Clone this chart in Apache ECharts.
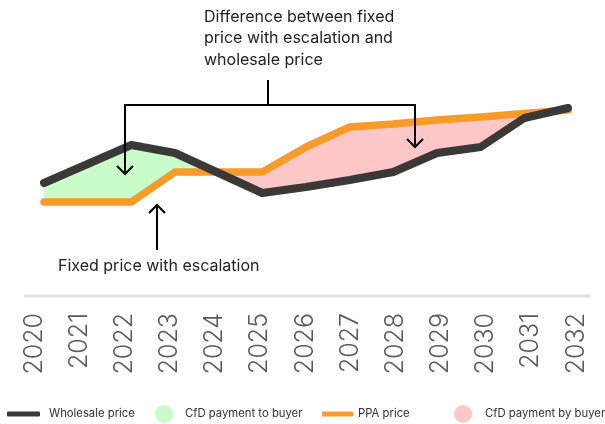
<!DOCTYPE html>
<html><head><meta charset="utf-8">
<script src="https://cdn.jsdelivr.net/npm/echarts@6/dist/echarts.min.js"></script>
<style>html,body{margin:0;padding:0;background:#fff}#c{width:605px;height:424px}</style>
</head><body><div id="c"></div>
<script>
const years = ['2020','2021','2022','2023','2024','2025','2026','2027','2028','2029','2030','2031','2032'];
const wholesale = [23.5,33,42.5,38.5,28.5,18.5,21.5,25,29,38.5,41.5,56,61];
const ppa = [14,14,14,29,29,29,41.5,51.5,53,55,56.5,58.3,60];
const wholesaleName = 'Wholesale price';
const ppaName = 'PPA price';
const toBuyerName = 'CfD payment to buyer';
const byBuyerName = 'CfD payment by buyer';

const C_WH = '#3b3937', C_PPA = '#f89b2a', C_GREEN = '#c8fcc8', C_PINK = '#ffc7c7';

function fillSeries(name, sign, color) {
  return {
    type: 'custom', name: name, xAxisIndex: 0, yAxisIndex: 0, z: 1,
    itemStyle: {color: color},
    data: years.slice(0, -1).map((y, i) => [i, wholesale[i], ppa[i], wholesale[i+1], ppa[i+1]]),
    encode: {x: 0, y: [1, 2]},
    renderItem: function (params, api) {
      const i = api.value(0);
      const w0 = api.value(1), p0 = api.value(2), w1 = api.value(3), p1 = api.value(4);
      const d0 = sign * (w0 - p0), d1 = sign * (w1 - p1);
      if (d0 <= 0 && d1 <= 0) return null;
      const A = api.coord([i, w0]), B = api.coord([i+1, w1]), Cc = api.coord([i+1, p1]), D = api.coord([i, p0]);
      let pts;
      if (d0 >= 0 && d1 >= 0) pts = [A, B, Cc, D];
      else {
        const t = d0 / (d0 - d1);
        const X = [A[0] + (B[0]-A[0])*t, A[1] + (B[1]-A[1])*t];
        pts = d0 > 0 ? [A, X, D] : [X, B, Cc];
      }
      return {type: 'polygon', shape: {points: pts}, style: {fill: color, stroke: color, lineWidth: 1}};
    }
  };
}

const legendText = {fontFamily: 'Inter', fontSize: 11.3, color: '#333', lineHeight: 18};
function legend(name, left, icon, w, h, color, pad) {
  return {
    data: [{name: name, icon: icon, itemStyle: {color: color, borderWidth: 0}}],
    left: left, top: 405, itemWidth: w, itemHeight: h, padding: 0, selectedMode: false,
    textStyle: Object.assign({padding: [0, 0, 0, pad]}, legendText)
  };
}

const chart = echarts.init(document.getElementById('c'), null, {renderer: 'canvas'});
const arrowStyle = {stroke: '#000', lineWidth: 2, fill: null};
chart.setOption({
  animation: false,
  backgroundColor: '#fff',
  grid: [
    {left: 44, right: 37, top: 90, bottom: 194},
    {left: 34, right: 29, top: 296, height: 1}
  ],
  xAxis: [
    {type: 'category', gridIndex: 0, data: years, boundaryGap: false, show: false},
    {type: 'category', gridIndex: 1, data: years, boundaryGap: false,
     axisLine: {show: false}, axisTick: {show: false}, splitLine: {show: false},
     axisLabel: {rotate: 90, margin: 16, fontFamily: 'Inter', fontWeight: 300, fontSize: 25, color: '#5a5a5a', interval: 0}}
  ],
  yAxis: [
    {type: 'value', gridIndex: 0, min: 0, max: 70, show: false},
    {type: 'value', gridIndex: 1, show: false}
  ],
  legend: [
    legend(wholesaleName, 7, 'roundRect', 33, 5, C_WH, 4),
    legend(toBuyerName, 155, 'circle', 18, 18, C_GREEN, 7),
    legend(ppaName, 322, 'roundRect', 31, 5, C_PPA, 0),
    legend(byBuyerName, 454, 'circle', 18, 18, C_PINK, 8)
  ],
  series: [
    fillSeries(toBuyerName, 1, C_GREEN),
    fillSeries(byBuyerName, -1, C_PINK),
    {type: 'line', name: ppaName, data: ppa, xAxisIndex: 0, yAxisIndex: 0, z: 2, symbol: 'none',
     itemStyle: {color: C_PPA}, lineStyle: {color: C_PPA, width: 7.5, cap: 'round', join: 'round'}},
    {type: 'line', name: wholesaleName, data: wholesale, xAxisIndex: 0, yAxisIndex: 0, z: 3, symbol: 'none',
     itemStyle: {color: C_WH}, lineStyle: {color: C_WH, width: 8, cap: 'round', join: 'round'}}
  ],
  graphic: {
    elements: [
      {type: 'line', z: 0, shape: {x1: 24, y1: 296, x2: 590, y2: 296}, style: {stroke: '#e2e2e2', lineWidth: 3}},
      {type: 'text', z: 100, left: 204, top: 6, style: {text: 'Difference between fixed\nprice with escalation and\nwholesale price',
        fontFamily: 'Inter', fontSize: 16, lineHeight: 21.5, fill: '#222'}},
      {type: 'text', z: 100, left: 58, top: 255, style: {text: 'Fixed price with escalation', fontFamily: 'Inter', fontSize: 16, lineHeight: 21.5, fill: '#222'}},
      {type: 'polyline', z: 100, shape: {points: [[268, 80], [268, 105]]}, style: arrowStyle},
      {type: 'polyline', z: 100, shape: {points: [[125, 174], [125, 105], [415, 105], [415, 147]]}, style: arrowStyle},
      {type: 'polyline', z: 100, shape: {points: [[117, 166], [125, 174], [133, 166]]}, style: arrowStyle},
      {type: 'polyline', z: 100, shape: {points: [[407, 139], [415, 147], [423, 139]]}, style: arrowStyle},
      {type: 'polyline', z: 100, shape: {points: [[157, 250], [157, 205]]}, style: arrowStyle},
      {type: 'polyline', z: 100, shape: {points: [[149, 213], [157, 205], [165, 213]]}, style: arrowStyle}
    ]
  }
});
</script>
</body></html>
